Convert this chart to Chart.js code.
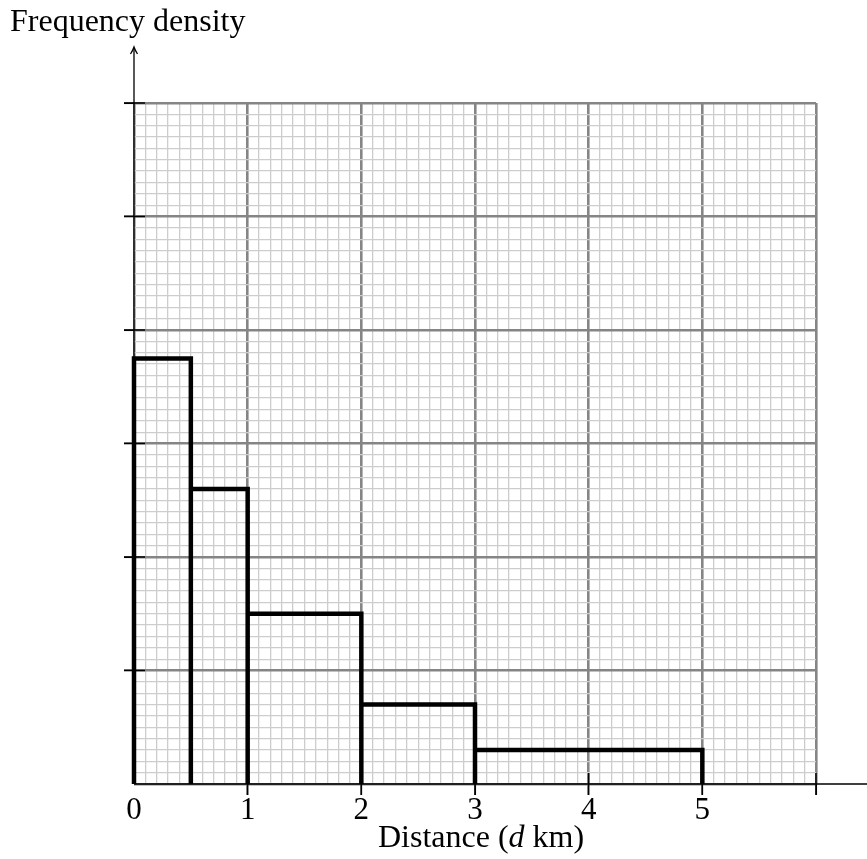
<!DOCTYPE html>
<html>
<head>
<meta charset="utf-8">
<script src="https://cdn.jsdelivr.net/npm/chart.js@4.4.1/dist/chart.umd.min.js"></script>
<style>
  html, body { margin: 0; padding: 0; background: #fff; }
  #wrap { width: 867px; height: 859px; }
</style>
</head>
<body>
<div id="wrap"><canvas id="histo"></canvas></div>
<script>
// class boundaries (km) and frequency densities
const edges = [0, 0.5, 1, 2, 3, 5];
const densities = [3.75, 2.6, 1.5, 0.7, 0.3];
const xTickLabels = ['0', '1', '2', '3', '4', '5'];
const xMax = 6;
const yMax = 6;

const serif = '"Liberation Serif", "DejaVu Serif", serif';

// outline of the histogram, one step per class
const outline = [{ x: edges[0], y: 0 }];
densities.forEach((d, i) => {
    outline.push({ x: edges[i], y: d });
    outline.push({ x: edges[i + 1], y: d });
    outline.push({ x: edges[i + 1], y: 0 });
});

const isMajor = v => Math.abs(v - Math.round(v)) < 1e-6;
const gridColor = ctx => isMajor(ctx.tick.value) ? '#858585' : '#cdcdcd';
const gridWidth = ctx => isMajor(ctx.tick.value) ? 2.6 : 1.3;
const tickColor = ctx => (isMajor(ctx.tick.value) && ctx.tick.value !== 0) ? '#000' : 'rgba(0,0,0,0)';

// axis lines, arrow, crossing ticks and the x label with italic d
const axesPlugin = {
    id: 'axes',
    afterDraw(chart) {
        const { ctx, scales: { x, y }, chartArea } = chart;
        const x0 = x.getPixelForValue(0);
        const y0 = y.getPixelForValue(0);
        ctx.save();
        ctx.strokeStyle = '#000';
        ctx.lineWidth = 1.3;
        ctx.beginPath();
        ctx.moveTo(x0, y0);
        ctx.lineTo(chart.width, y0);
        ctx.moveTo(x0, y0);
        ctx.lineTo(x0, chartArea.top - 55);
        ctx.stroke();
        // arrow head
        ctx.beginPath();
        ctx.moveTo(x0 - 3.5, chartArea.top - 49);
        ctx.quadraticCurveTo(x0 - 1, chartArea.top - 53, x0, chartArea.top - 56);
        ctx.quadraticCurveTo(x0 + 1, chartArea.top - 53, x0 + 3.5, chartArea.top - 49);
        ctx.stroke();
        // ticks crossing the axes
        ctx.lineWidth = 1.5;
        ctx.beginPath();
        for (let v = 1; v <= yMax; v++) {
            const py = y.getPixelForValue(v);
            ctx.moveTo(x0 - 10, py);
            ctx.lineTo(x0 + 11, py);
        }
        for (let v = 1; v <= xMax; v++) {
            const px = x.getPixelForValue(v);
            ctx.moveTo(px, y0 - 11);
            ctx.lineTo(px, y0 + 11);
        }
        ctx.stroke();
        // x axis label
        const parts = [
            { t: 'Distance (', f: '32px ' + serif },
            { t: 'd', f: 'italic 32px ' + serif },
            { t: ' km)', f: '32px ' + serif }
        ];
        let total = 0;
        parts.forEach(p => { ctx.font = p.f; p.w = ctx.measureText(p.t).width; total += p.w; });
        let cx = (chartArea.left + chartArea.right) / 2 - total / 2 + 6;
        ctx.fillStyle = '#000';
        ctx.textBaseline = 'alphabetic';
        parts.forEach(p => { ctx.font = p.f; ctx.fillText(p.t, cx, 847); cx += p.w; });
        ctx.restore();
    }
};

new Chart(document.getElementById('histo'), {
    type: 'scatter',
    data: {
        datasets: [{
            data: outline,
            showLine: true,
            borderColor: '#000',
            borderWidth: 4.5,
            borderJoinStyle: 'miter',
            pointRadius: 0,
            fill: false,
            clip: 6
        }]
    },
    options: {
        responsive: true,
        maintainAspectRatio: false,
        animation: false,
        devicePixelRatio: 1,
        layout: { padding: { left: 10, right: 51, top: 0, bottom: 0 } },
        plugins: {
            legend: { display: false },
            tooltip: { enabled: false },
            title: {
                display: true,
                text: 'Frequency density',
                align: 'start',
                color: '#000',
                font: { family: serif, size: 32, weight: 'normal' },
                padding: { top: 3, bottom: 61.6 }
            }
        },
        scales: {
            x: {
                type: 'linear',
                min: 0,
                max: xMax,
                afterFit: scale => { scale.height = 75; },
                border: { display: false },
                grid: { color: gridColor, lineWidth: gridWidth, tickLength: 11, tickColor: tickColor, tickWidth: 1.5 },
                ticks: {
                    stepSize: 0.1,
                    autoSkip: false,
                    maxRotation: 0,
                    padding: -3,
                    color: '#000',
                    font: { family: serif, size: 31 },
                    callback: v => (isMajor(v) && xTickLabels[Math.round(v)] !== undefined) ? xTickLabels[Math.round(v)] : ''
                }
            },
            y: {
                type: 'linear',
                min: 0,
                max: yMax,
                afterFit: scale => { scale.width = 124; },
                border: { display: false },
                grid: { color: gridColor, lineWidth: gridWidth, tickLength: 10, tickColor: tickColor, tickWidth: 1.5 },
                ticks: { stepSize: 0.1, autoSkip: false, display: false }
            }
        }
    },
    plugins: [axesPlugin]
});
</script>
</body>
</html>
